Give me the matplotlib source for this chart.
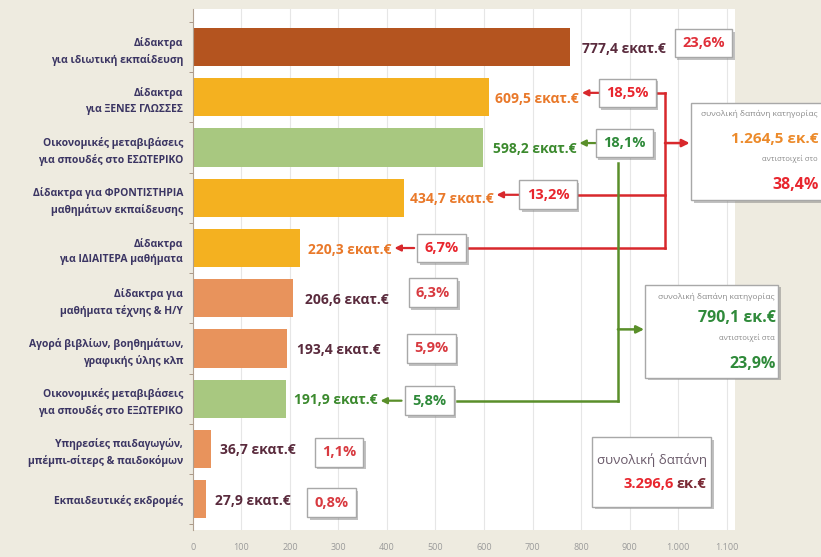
import numpy as np
import matplotlib
matplotlib.use("Agg")
import matplotlib.pyplot as plt
import matplotlib.patheffects as pe
from matplotlib.patches import Rectangle

plt.rcParams['font.family'] = ['Open Sans', 'DejaVu Sans']

# data
categories = ["Δίδακτρα\nγια ιδιωτική εκπαίδευση",
              "Δίδακτρα\nγια ΞΕΝΕΣ ΓΛΩΣΣΕΣ",
              "Οικονομικές μεταβιβάσεις\nγια σπουδές στο ΕΣΩΤΕΡΙΚΟ",
              "Δίδακτρα για ΦΡΟΝΤΙΣΤΗΡΙΑ\nμαθημάτων εκπαίδευσης",
              "Δίδακτρα\nγια ΙΔΙΑΙΤΕΡΑ μαθήματα",
              "Δίδακτρα για\nμαθήματα τέχνης & Η/Υ",
              "Αγορά βιβλίων, βοηθημάτων,\nγραφικής ύλης κλπ",
              "Οικονομικές μεταβιβάσεις\nγια σπουδές στο ΕΞΩΤΕΡΙΚΟ",
              "Υπηρεσίες παιδαγωγών,\nμπέμπι-σίτερς & παιδοκόμων",
              "Εκπαιδευτικές εκδρομές"]
values = [777.4, 609.5, 598.2, 434.7, 220.3, 206.6, 193.4, 191.9, 36.7, 27.9]
shares = [23.6, 18.5, 18.1, 13.2, 6.7, 6.3, 5.9, 5.8, 1.1, 0.8]
groups = ['top', 'red', 'green', 'red', 'red', 'other', 'other', 'green', 'other', 'other']
xticks = [0, 100, 200, 300, 400, 500, 600, 700, 800, 900, 1000, 1100]
xtick_labels = ['0', '100', '200', '300', '400', '500', '600', '700', '800', '900', '1.000', '1.100']
red_total, red_share = 1264.5, 38.4
green_total, green_share = 790.1, 23.9
grand_total = 3296.6

bar_colors = ['#b4541f', '#f4b120', '#a8c880', '#f4b120', '#f4b120',
              '#e8935c', '#e8935c', '#a8c880', '#e8935c', '#e8935c']
val_colors = {'top': '#5a2b3d', 'red': '#e9792a', 'green': '#3c8a2e', 'other': '#5a2b3d'}
pct_colors = {'top': '#e0303a', 'red': '#e8262e', 'green': '#2f8a3a', 'other': '#d83a40'}
RED = '#d8282c'
GREEN = '#5a8f2a'

# layout (data x positions of labels and boxes)
lab_x = [802, 623, 618, 447, 237, 231, 214, 208, 56, 45]
box_x = [1052, 895, 889, 732, 513, 495, 491, 487, 301, 285]
box_dy = [-0.08, -0.09, -0.09, -0.06, 0.0, -0.11, 0.0, 0.04, 0.07, 0.07]
half_w = 57


def gr(v, d=1):
    s = f"{v:,.{d}f}"
    return s.replace(',', 'X').replace('.', ',').replace('X', '.')


fig = plt.figure(figsize=(8.21, 5.57), dpi=100, facecolor='#eeebe0')
ax = fig.add_axes([0.235, 0.048, 0.66, 0.935])
ax.set_facecolor('white')

y = np.arange(len(values))
ax.barh(y, values, height=0.76, color=bar_colors, zorder=2)
ax.set_xlim(0, 1117)
ax.set_ylim(9.62, -0.75)

for xv in xticks[1:]:
    ax.axvline(xv, color='#e6e6e6', lw=0.8, zorder=1)

ax.set_xticks(xticks)
ax.set_xticklabels(xtick_labels, fontsize=6.5, color='#9a9a9a')
ax.tick_params(axis='x', length=0, pad=9)
ax.set_yticks(y)
ax.set_yticklabels(categories, fontsize=7.5, color='#3b3563', fontweight='bold', linespacing=1.55)
ax.set_yticks(np.arange(-0.5, 10, 1), minor=True)
ax.tick_params(axis='y', which='major', length=0, pad=7)
ax.tick_params(axis='y', which='minor', length=3, color='#a08a7a')
for s in ['top', 'right', 'bottom']:
    ax.spines[s].set_visible(False)
ax.spines['left'].set_color('#b0a090')

shadow = [pe.withSimplePatchShadow(offset=(2, -2), shadow_rgbFace='#777777', alpha=0.45)]

val_texts = []
for i, v in enumerate(values):
    g = groups[i]
    vt = ax.text(lab_x[i], i + 0.03, gr(v) + " εκατ.€", ha='left', va='center',
                 fontsize=10, fontweight='bold', color=val_colors[g], zorder=4)
    val_texts.append(vt)
    t = ax.text(box_x[i], i + box_dy[i], gr(shares[i]) + "%", ha='center', va='center',
                fontsize=10.5, fontweight='bold', color=pct_colors[g], zorder=6,
                bbox=dict(boxstyle='square,pad=0.5', fc='white', ec='#a8a8a8', lw=1.0))
    t.get_bbox_patch().set_path_effects(shadow)

# small arrows from the share boxes to the value labels
fig.canvas.draw()
inv = ax.transData.inverted()
for i, g in enumerate(groups):
    if g not in ('red', 'green'):
        continue
    c = RED if g == 'red' else GREEN
    bb = val_texts[i].get_window_extent()
    x_end = inv.transform((bb.x1 + 3, 0))[0]
    ax.annotate('', xy=(x_end, i + box_dy[i]), xytext=(box_x[i] - half_w, i + box_dy[i]),
                arrowprops=dict(arrowstyle='-|>', color=c, lw=1.6, mutation_scale=9,
                                shrinkA=0, shrinkB=0), zorder=5)

# red connector
xr = 973
red_rows = [i for i, g in enumerate(groups) if g == 'red']
for i in red_rows:
    ax.plot([box_x[i] + half_w, xr], [i + box_dy[i]] * 2, color=RED, lw=1.8, zorder=3, clip_on=False)
ax.plot([xr, xr], [red_rows[0] + box_dy[red_rows[0]], red_rows[-1] + box_dy[red_rows[-1]]],
        color=RED, lw=1.8, zorder=3, clip_on=False)
ax.annotate('', xy=(1024, 1.91), xytext=(xr, 1.91), annotation_clip=False,
            arrowprops=dict(arrowstyle='-|>', color=RED, lw=1.8, mutation_scale=11,
                            shrinkA=0, shrinkB=0))

# green connector
xg = 876
green_rows = [i for i, g in enumerate(groups) if g == 'green']
ax.plot([xg, xg], [green_rows[0] + 0.3, green_rows[-1] + box_dy[green_rows[-1]]],
        color=GREEN, lw=1.8, zorder=3, clip_on=False)
ax.plot([box_x[green_rows[-1]] + half_w, xg], [green_rows[-1] + box_dy[green_rows[-1]]] * 2,
        color=GREEN, lw=1.8, zorder=3, clip_on=False)
ax.annotate('', xy=(930, 5.62), xytext=(xg, 5.62), annotation_clip=False,
            arrowprops=dict(arrowstyle='-|>', color=GREEN, lw=1.8, mutation_scale=11,
                            shrinkA=0, shrinkB=0))


def summary_box(x0, x1, y0, y1):
    r = Rectangle((x0, y0), x1 - x0, y1 - y0, fc='white', ec='#a8a8a8', lw=1.0,
                  zorder=6, clip_on=False)
    r.set_path_effects(shadow)
    ax.add_patch(r)


# red summary box
summary_box(1027, 1330, 1.12, 3.04)
ax.text(1288, 1.33, "συνολική δαπάνη κατηγορίας", ha='right', va='center', fontsize=6,
        color='#8a8a8a', zorder=7)
ax.text(1290, 1.82, gr(red_total) + " εκ.€", ha='right', va='center', fontsize=11,
        fontweight='bold', color='#ec8a2a', zorder=7)
ax.text(1288, 2.22, "αντιστοιχεί στο", ha='right', va='center', fontsize=5.5,
        color='#8a8a8a', zorder=7)
ax.text(1290, 2.75, gr(red_share) + "%", ha='right', va='center', fontsize=11.5,
        fontweight='bold', color='#e8262e', zorder=7)

# green summary box
summary_box(932, 1206, 4.73, 6.58)
ax.text(1199, 4.97, "συνολική δαπάνη κατηγορίας", ha='right', va='center', fontsize=6,
        color='#8a8a8a', zorder=7)
ax.text(1201, 5.4, gr(green_total) + " εκ.€", ha='right', va='center', fontsize=11.5,
        fontweight='bold', color='#2f8a3a', zorder=7)
ax.text(1199, 5.8, "αντιστοιχεί στα", ha='right', va='center', fontsize=5.5,
        color='#8a8a8a', zorder=7)
ax.text(1201, 6.3, gr(green_share) + "%", ha='right', va='center', fontsize=11.5,
        fontweight='bold', color='#2f8a3a', zorder=7)

# grand total box
summary_box(823, 1068, 7.77, 9.15)
ax.text(1060, 8.23, "συνολική δαπάνη", ha='right', va='center', fontsize=9.5,
        color='#6a5a6a', zorder=7)
ax.text(992, 8.7, gr(grand_total), ha='right', va='center', fontsize=10.5,
        fontweight='bold', color='#e8262e', zorder=7)
ax.text(997, 8.7, "εκ.€", ha='left', va='center', fontsize=10.5,
        fontweight='bold', color='#7a2a35', zorder=7)

fig.savefig('out.png', dpi=100, facecolor=fig.get_facecolor())
